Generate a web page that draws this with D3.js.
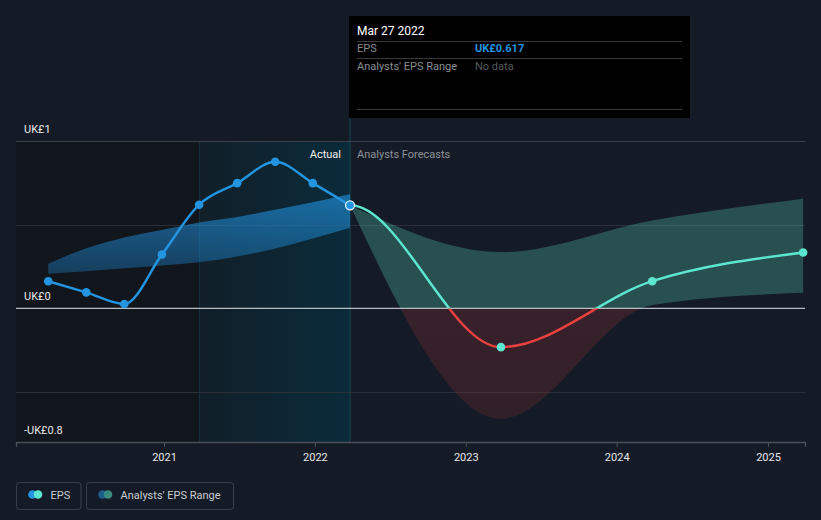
<!DOCTYPE html>
<html><head><meta charset="utf-8">
<script src="https://cdn.jsdelivr.net/npm/d3@7"></script>
<style>
html,body{margin:0;padding:0;background:#151b26;}
svg{display:block;font-family:Roboto, "Noto Sans", sans-serif;}
</style></head>
<body><svg id="c" width="821" height="520"></svg>
<script>
// ---- data ----
const actualDates = ["2020-03-27","2020-06-27","2020-09-27","2020-12-27","2021-03-27","2021-06-27","2021-09-27","2021-12-27","2022-03-27"];
const actualEPS   = [0.163, 0.096, 0.026, 0.323, 0.621, 0.750, 0.878, 0.750, 0.617];
const actualRangeHigh = [0.268, 0.36, 0.425, 0.47, 0.515, 0.548, 0.59, 0.635, 0.683];
const actualRangeLow  = [0.208, 0.222, 0.24, 0.257, 0.277, 0.311, 0.359, 0.419, 0.483];
const forecastDates = ["2022-03-27","2023-03-27","2024-03-27","2025-03-27"];
const forecastEPS   = [0.617, -0.232, 0.163, 0.335];
const forecastHigh  = [0.617, 0.337, 0.527, 0.657];
const forecastLow   = [0.617, -0.661, 0.02, 0.094];
const yTicks = [1, 0, -0.8];
const yTickLabels = ["UK£1", "UK£0", "-UK£0.8"];
const xTickYears = [2021, 2022, 2023, 2024, 2025];
const tooltipDate = "Mar 27 2022";
const tooltipEPS = "UK£0.617";

const parse = d3.timeParse("%Y-%m-%d");
const svg = d3.select("#c");
const L = 16, R = 805, T = 141.4, B = 442;

const tmp = d3.scaleTime().domain([new Date(2021,0,1), new Date(2025,0,1)]).range([164, 768]);
const x = d3.scaleTime().domain([tmp.invert(L), tmp.invert(R)]).range([L, R]);
const y = d3.scaleLinear().domain([-0.8, 1]).range([B, T]);

const defs = svg.append("defs");
const hg = defs.append("linearGradient").attr("id","hl").attr("x1","0").attr("x2","1").attr("y1","0").attr("y2","0");
hg.append("stop").attr("offset","0").attr("stop-color","#111f29");
hg.append("stop").attr("offset","1").attr("stop-color","#0a2b3a");
const bg = defs.append("linearGradient").attr("id","band").attr("x1","0").attr("x2","0").attr("y1","0").attr("y2","1");
bg.append("stop").attr("offset","0").attr("stop-color","#2196e6").attr("stop-opacity",0.62);
bg.append("stop").attr("offset","1").attr("stop-color","#2196e6").attr("stop-opacity",0.32);
const rg = defs.append("linearGradient").attr("id","red").attr("x1","0").attr("x2","0").attr("y1","0").attr("y2","1");
rg.append("stop").attr("offset","0").attr("stop-color","#e03c3c").attr("stop-opacity",0.2);
rg.append("stop").attr("offset","1").attr("stop-color","#e03c3c").attr("stop-opacity",0.14);
defs.append("clipPath").attr("id","above").append("rect").attr("x",0).attr("y",0).attr("width",821).attr("height",y(0));
defs.append("clipPath").attr("id","below").append("rect").attr("x",0).attr("y",y(0)).attr("width",821).attr("height",520-y(0));

const aD = actualDates.map(parse), fD = forecastDates.map(parse);
const hlStart = parse("2021-03-27"), hlEnd = parse("2022-03-27");

// background regions
svg.append("rect").attr("x",L).attr("y",T).attr("width",x(hlStart)-L).attr("height",B-T).attr("fill","#11151c");
svg.append("rect").attr("x",x(hlStart)).attr("y",T).attr("width",x(hlEnd)-x(hlStart)).attr("height",B-T).attr("fill","url(#hl)");
svg.append("line").attr("x1",x(hlStart)+0.5).attr("x2",x(hlStart)+0.5).attr("y1",T).attr("y2",B).attr("stroke","#16303b");
svg.append("line").attr("x1",x(hlEnd)).attr("x2",x(hlEnd)).attr("y1",118).attr("y2",B).attr("stroke","#15394a").attr("stroke-width",1.5);

// gridlines
[1, 0.5, -0.5].forEach(v => {
  svg.append("line").attr("x1",L).attr("x2",R).attr("y1",Math.round(y(v))+0.5).attr("y2",Math.round(y(v))+0.5)
    .attr("stroke", v===1 ? "#3b4049" : "#2a2f38").attr("stroke-width",1);
});

const curve = d3.curveMonotoneX;
// actual band
const aBand = actualDates.map((d,i)=>({d:aD[i],h:actualRangeHigh[i],l:actualRangeLow[i]}));
svg.append("path").datum(aBand).attr("fill","url(#band)")
  .attr("d", d3.area().curve(curve).x(d=>x(d.d)).y0(d=>y(d.l)).y1(d=>y(d.h)));

// forecast band
const fBand = forecastDates.map((d,i)=>({d:fD[i],h:forecastHigh[i],l:forecastLow[i]}));
const fArea = d3.area().curve(curve).x(d=>x(d.d)).y0(d=>y(d.l)).y1(d=>y(d.h));
svg.append("path").datum(fBand).attr("fill","#5ee0c8").attr("fill-opacity",0.27).attr("clip-path","url(#above)").attr("d",fArea);
svg.append("path").datum(fBand).attr("fill","url(#red)").attr("clip-path","url(#below)").attr("d",fArea);

// zero line & axis
svg.append("line").attr("x1",L).attr("x2",R).attr("y1",y(0)).attr("y2",y(0)).attr("stroke","#b8bcc2").attr("stroke-width",1.3);

const xAxis = svg.append("g").attr("transform",`translate(0,${B})`)
  .call(d3.axisBottom(x).tickValues(xTickYears.map(yr=>new Date(yr,0,1))).tickFormat(d3.timeFormat("%Y")).tickSize(5).tickPadding(6));
xAxis.select(".domain").attr("stroke","#4a4f58").attr("stroke-width",1.3);
xAxis.selectAll(".tick line").attr("stroke","#4a4f58");
xAxis.selectAll("text").attr("fill","#e6e6e6").attr("font-size",11).attr("font-family","Roboto, sans-serif");

// y labels
yTicks.forEach((v,i)=>{
  svg.append("text").attr("x",24).attr("y",y(v)-8).attr("fill","#e8e8e8").attr("font-size",11).text(yTickLabels[i]);
});

// monotone hermite path with flat start tangent (forecast line)
function flatStartMonotone(pts){
  const n = pts.length, px = pts.map(p=>p[0]), py = pts.map(p=>p[1]);
  const s = [], h = [];
  for (let i=0;i<n-1;i++){ h[i]=px[i+1]-px[i]; s[i]=(py[i+1]-py[i])/h[i]; }
  const t = new Array(n);
  t[0] = 0;
  for (let i=1;i<n-1;i++){
    const p = (s[i-1]*h[i] + s[i]*h[i-1])/(h[i-1]+h[i]);
    t[i] = (Math.sign(s[i-1]) + Math.sign(s[i])) * Math.min(Math.abs(s[i-1]), Math.abs(s[i]), 0.5*Math.abs(p)) || 0;
  }
  t[n-1] = (3*s[n-2] - t[n-2])/2;
  const path = d3.path();
  path.moveTo(px[0], py[0]);
  for (let i=0;i<n-1;i++){
    const dx = h[i]/3;
    path.bezierCurveTo(px[i]+dx, py[i]+dx*t[i], px[i+1]-dx, py[i+1]-dx*t[i+1], px[i+1], py[i+1]);
  }
  return path.toString();
}

// lines
const aPts = actualDates.map((d,i)=>({d:aD[i],v:actualEPS[i]}));
const fPts = forecastDates.map((d,i)=>({d:fD[i],v:forecastEPS[i]}));
const line = d3.line().curve(curve).x(d=>x(d.d)).y(d=>y(d.v));
svg.append("path").datum(aPts).attr("fill","none").attr("stroke","#2394df").attr("stroke-width",2.5).attr("d",line);
const fPath = flatStartMonotone(fPts.map(d=>[x(d.d), y(d.v)]));
svg.append("path").attr("fill","none").attr("stroke","#5de6cf").attr("stroke-width",2.5).attr("clip-path","url(#above)").attr("d",fPath);
svg.append("path").attr("fill","none").attr("stroke","#e8413f").attr("stroke-width",2.5).attr("clip-path","url(#below)").attr("d",fPath);

svg.selectAll(".ap").data(aPts.slice(0,-1)).enter().append("circle")
  .attr("cx",d=>x(d.d)).attr("cy",d=>y(d.v)).attr("r",4.3).attr("fill","#2394df");
svg.selectAll(".fp").data(fPts.slice(1)).enter().append("circle")
  .attr("cx",d=>x(d.d)).attr("cy",d=>y(d.v)).attr("r",4.3).attr("fill","#5de6cf");
const last = aPts[aPts.length-1];
svg.append("circle").attr("cx",x(last.d)).attr("cy",y(last.v)).attr("r",4.5).attr("fill","#2394df").attr("stroke","#e8f6ff").attr("stroke-width",1.3);

// section labels
svg.append("text").attr("x",x(hlEnd)-9).attr("y",158).attr("text-anchor","end").attr("fill","#f0f0f0").attr("font-size",11).text("Actual");
svg.append("text").attr("x",x(hlEnd)+7).attr("y",158).attr("fill","#8d9299").attr("font-size",11).text("Analysts Forecasts");

// tooltip
const tt = svg.append("g");
tt.append("rect").attr("x",349).attr("y",16).attr("width",341).attr("height",102).attr("fill","#000");
tt.append("text").attr("x",357).attr("y",35).attr("fill","#ffffff").attr("font-size",12).text(tooltipDate);
[41.5, 58.5, 109.5].forEach(yy=>tt.append("line").attr("x1",357).attr("x2",682).attr("y1",yy).attr("y2",yy).attr("stroke","#3a3a3a"));
tt.append("text").attr("x",357).attr("y",52).attr("fill","#8a8d92").attr("font-size",11).text("EPS");
tt.append("text").attr("x",475).attr("y",52).attr("fill","#2394df").attr("font-size",11).attr("font-weight","bold").text(tooltipEPS);
tt.append("text").attr("x",357).attr("y",70).attr("fill","#8a8d92").attr("font-size",11).text("Analysts' EPS Range");
tt.append("text").attr("x",475).attr("y",70).attr("fill","#55585d").attr("font-size",11).text("No data");

// legend
const lg = svg.append("g");
lg.append("rect").attr("x",16.5).attr("y",482.5).attr("width",64.5).attr("height",27).attr("rx",3).attr("fill","none").attr("stroke","#3a3f48");
lg.append("rect").attr("x",86.5).attr("y",482.5).attr("width",147).attr("height",27).attr("rx",3).attr("fill","none").attr("stroke","#3a3f48");
lg.append("circle").attr("cx",32.5).attr("cy",494.5).attr("r",4.3).attr("fill","#2394df");
lg.append("circle").attr("cx",38).attr("cy",494.5).attr("r",4.3).attr("fill","#5de6cf");
lg.append("text").attr("x",50.5).attr("y",499).attr("fill","#c8cbd0").attr("font-size",11).text("EPS");
lg.append("circle").attr("cx",102.5).attr("cy",494.5).attr("r",4.3).attr("fill","#1d5d8a");
lg.append("circle").attr("cx",108).attr("cy",494.5).attr("r",4.3).attr("fill","#3b8a80");
lg.append("text").attr("x",120.5).attr("y",499).attr("fill","#c8cbd0").attr("font-size",11).text("Analysts' EPS Range");
</script></body></html>
